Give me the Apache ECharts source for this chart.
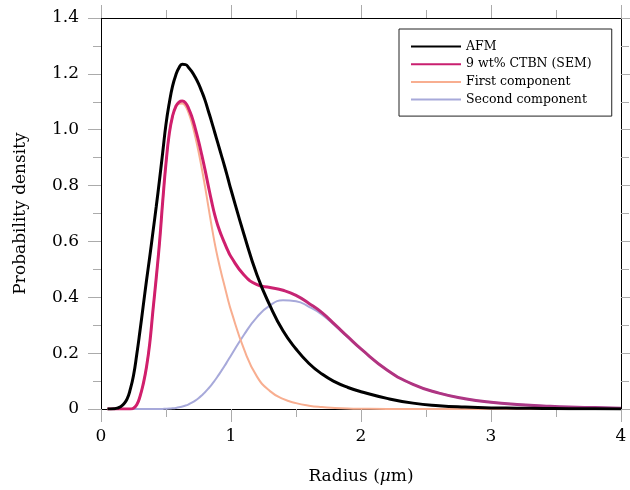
<!DOCTYPE html>
<html>
<head>
<meta charset="utf-8">
<script src="https://cdn.jsdelivr.net/npm/echarts@6/dist/echarts.min.js"></script>
<style>html,body{margin:0;padding:0;background:#fff}#chart{width:630px;height:490px}</style>
</head>
<body>
<div id="chart"></div>
<script>
// ---- data ----
var radius = [0.05,0.1,0.125,0.15,0.175,
  0.2,0.225,0.25,0.275,0.3,0.325,0.35,0.375,0.4,0.425,0.45,0.475,0.5,0.525,0.55,0.575,0.6,0.625,0.65,0.675,0.7,0.725,0.75,0.775,0.8,0.825,0.85,0.875,0.9,0.925,0.95,0.975,1.0,
  1.1,1.2,1.3,1.4,1.5,1.6,1.7,1.8,1.9,2.0,
  2.2,2.4,2.6,2.8,3.0,3.2,3.4,3.6,3.8,4.0];
var afm = [0,0.001,0.003,0.008,0.018,
  0.035,0.07,0.12,0.195,0.28,0.37,0.46,0.545,0.635,0.725,0.82,0.92,1.02,1.095,1.155,1.195,1.222,1.234,1.233,1.222,1.207,1.188,1.165,1.137,1.106,1.068,1.03,0.99,0.95,0.91,0.87,0.828,0.785,
  0.625,0.48,0.37,0.28,0.215,0.163,0.125,0.097,0.077,0.062,
  0.038,0.021,0.012,0.007,0.004,0.003,0.002,0.001,0.001,0];
var sem = [0,0,0,0,0,
  0,0,0.003,0.015,0.045,0.09,0.15,0.235,0.355,0.47,0.595,0.745,0.88,0.985,1.048,1.083,1.099,1.103,1.096,1.075,1.045,1.005,0.96,0.91,0.857,0.8,0.745,0.695,0.655,0.623,0.595,0.568,0.545,
  0.48,0.445,0.435,0.425,0.407,0.378,0.345,0.302,0.258,0.215,
  0.14,0.088,0.057,0.037,0.024,0.016,0.011,0.007,0.005,0.003];
var first = [0,0,0,0,0,
  0,0,0.003,0.015,0.045,0.09,0.15,0.235,0.355,0.47,0.595,0.745,0.879,0.984,1.046,1.079,1.093,1.094,1.084,1.058,1.022,0.975,0.922,0.862,0.797,0.727,0.658,0.593,0.537,0.487,0.441,0.395,0.353,
  0.214,0.116,0.064,0.036,0.021,0.012,0.007,0.004,0.002,0.001,
  0,0,0,0,0,0,0,0,0,0];
var second = [0,0,0,0,0,
  0,0,0,0,0,0,0,0,0,0,0,0.0004,0.0008,0.0014,0.0024,0.0038,0.0059,0.0088,0.0123,0.017,0.0229,0.030,0.0385,0.0485,0.060,0.0728,0.0867,0.102,0.1185,0.136,0.154,0.1727,0.1916,
  0.266,0.329,0.371,0.389,0.386,0.366,0.338,0.298,0.256,0.214,
  0.14,0.088,0.057,0.037,0.024,0.016,0.011,0.007,0.005,0.003];
var seriesNames = ['AFM', '9 wt% CTBN (SEM)', 'First component', 'Second component'];
var xTicks = [0, 1, 2, 3, 4];
var yTicks = [0, 0.2, 0.4, 0.6, 0.8, 1.0, 1.2, 1.4];

function pairs(ys) { return radius.map(function (x, i) { return [x, ys[i]]; }); }

var FONT = 'DejaVu Serif';
var tickGray = '#ababab';

function baseAxis(extra) {
  var a = {
    type: 'value',
    axisLine: { show: true, onZero: false, lineStyle: { color: '#000', width: 1 } },
    axisTick: { show: true, inside: false, length: 13, lineStyle: { color: tickGray, width: 1 } },
    minorTick: { show: true, splitNumber: 2, length: 8, lineStyle: { color: tickGray, width: 1 } },
    splitLine: { show: false },
    minorSplitLine: { show: false }
  };
  for (var k in extra) a[k] = extra[k];
  return a;
}

var chart = echarts.init(document.getElementById('chart'), null, { renderer: 'canvas' });
var option = {
  animation: false,
  backgroundColor: '#fff',
  grid: { left: 101, right: 9, top: 18, bottom: 81, containLabel: false },
  legend: {
    show: true,
    orient: 'vertical',
    left: 399, top: 29,
    padding: [11, 20, 10, 11],
    itemWidth: 50, itemHeight: 14, itemGap: 4.7,
    borderColor: '#222', borderWidth: 1, borderRadius: 0,
    backgroundColor: '#fff',
    itemStyle: { color: 'rgba(0,0,0,0)', borderWidth: 0, opacity: 0 },
    textStyle: { fontFamily: FONT, fontSize: 12.5, color: '#000' },
    data: [
      { name: seriesNames[0] },
      { name: seriesNames[1], lineStyle: { color: '#c91f6f' } },
      { name: seriesNames[2] },
      { name: seriesNames[3] }
    ]
  },
  xAxis: [
    baseAxis({
      position: 'bottom', min: 0, max: 4, interval: 1,
      name: 'Radius ({i|μ}m)', nameLocation: 'middle', nameGap: 59,
      nameTextStyle: { fontFamily: FONT, fontSize: 17, color: '#000',
        rich: { i: { fontFamily: FONT, fontSize: 17, fontStyle: 'italic', color: '#000' } } },
      axisLabel: { show: true, margin: 19, fontFamily: FONT, fontSize: 17, color: '#000',
        formatter: function (v) { return xTicks.indexOf(v) >= 0 ? String(v) : ''; } }
    }),
    baseAxis({ position: 'top', min: 0, max: 4, interval: 1, axisLabel: { show: false } })
  ],
  yAxis: [
    baseAxis({
      position: 'left', min: 0, max: 1.4, interval: 0.2,
      name: 'Probability density', nameLocation: 'middle', nameGap: 72, nameRotate: 90,
      nameTextStyle: { fontFamily: FONT, fontSize: 17, color: '#000' },
      axisLabel: { show: true, margin: 22, fontFamily: FONT, fontSize: 17, color: '#000',
        formatter: function (v) { return v === 0 ? '0' : v.toFixed(1); } }
    }),
    baseAxis({ position: 'right', min: 0, max: 1.4, interval: 0.2, axisLabel: { show: false } })
  ],
  series: [
    { name: seriesNames[3], type: 'line', z: 2, data: pairs(second), symbol: 'none', showSymbol: false,
      smooth: 0.5, lineStyle: { color: '#a7a9da', width: 2 }, itemStyle: { color: '#a7a9da' } },
    { name: seriesNames[2], type: 'line', z: 2, data: pairs(first), symbol: 'none', showSymbol: false,
      smooth: 0.5, lineStyle: { color: '#f8ae90', width: 2 }, itemStyle: { color: '#f8ae90' } },
    { name: seriesNames[1], type: 'line', z: 3, data: pairs(sem), symbol: 'none', showSymbol: false,
      smooth: 0.5,
      lineStyle: { width: 3, color: new echarts.graphic.LinearGradient(0, 0, 1, 0, [
        { offset: 0, color: '#d11f6c' }, { offset: 0.3, color: '#cf1f6e' },
        { offset: 0.48, color: '#b3327f' }, { offset: 1, color: '#a63c8b' }]) },
      itemStyle: { color: '#c91f6f' } },
    { name: seriesNames[0], type: 'line', z: 4, data: pairs(afm), symbol: 'none', showSymbol: false,
      smooth: 0.5, lineStyle: { color: '#000', width: 3 }, itemStyle: { color: '#000' } }
  ]
};
chart.setOption(option);
</script>
</body>
</html>
